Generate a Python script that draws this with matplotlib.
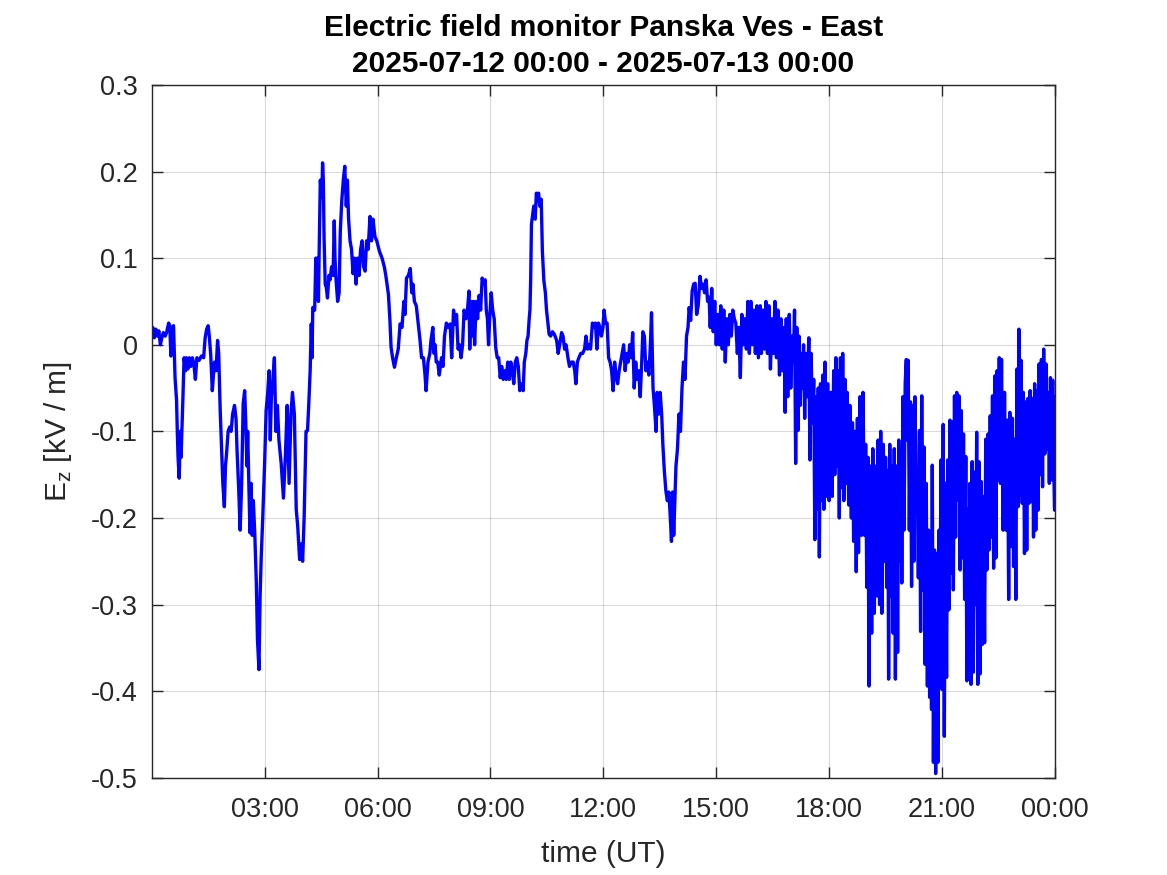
import numpy as np
import matplotlib
matplotlib.use("Agg")
import matplotlib.pyplot as plt

# E-field record, 2025-07-12 (hours UT, kV/m)
hours = [
    0.00, 0.03, 0.07, 0.11, 0.15, 0.19, 0.23, 0.27, 0.31, 0.36, 0.40, 0.45, 0.48, 0.51, 0.55, 0.58,
    0.62, 0.66, 0.68, 0.70, 0.73, 0.76, 0.78, 0.81, 0.83, 0.86, 0.90, 0.92, 0.96, 1.00, 1.04, 1.08,
    1.12, 1.16, 1.20, 1.26, 1.32, 1.38, 1.42, 1.46, 1.50, 1.53, 1.57, 1.61, 1.64, 1.67, 1.71, 1.75,
    1.78, 1.82, 1.86, 1.89, 1.93, 1.96, 1.99, 2.03, 2.07, 2.11, 2.15, 2.20, 2.24, 2.27, 2.31, 2.35,
    2.39, 2.43, 2.47, 2.50, 2.53, 2.55, 2.58, 2.61, 2.64, 2.67, 2.70, 2.74, 2.78, 2.81, 2.85, 2.88,
    2.91, 2.95, 3.00, 3.04, 3.08, 3.12, 3.15, 3.18, 3.22, 3.26, 3.30, 3.34, 3.38, 3.44, 3.50, 3.55,
    3.60, 3.65, 3.70, 3.74, 3.79, 3.84, 3.88, 3.93, 3.97,
    4.01, 4.05, 4.08, 4.10, 4.14, 4.17, 4.21, 4.24, 4.26, 4.28, 4.33, 4.36, 4.38, 4.41, 4.43, 4.45,
    4.48, 4.52, 4.54, 4.56, 4.58, 4.61, 4.64, 4.67, 4.71, 4.74, 4.78, 4.82, 4.85, 4.87, 4.90, 4.94,
    4.98, 5.01, 5.05, 5.09, 5.13, 5.17, 5.20, 5.23, 5.27, 5.31, 5.35, 5.39, 5.43, 5.47, 5.51, 5.55,
    5.59, 5.63, 5.67, 5.71, 5.75, 5.80, 5.84, 5.88, 5.93, 5.98, 6.05, 6.12, 6.18, 6.22, 6.26, 6.29,
    6.33, 6.36, 6.40, 6.45, 6.50, 6.55, 6.60, 6.65, 6.70, 6.73, 6.77, 6.82, 6.87, 6.91, 6.94, 6.98,
    7.03, 7.08, 7.13, 7.17, 7.22, 7.26, 7.29, 7.34, 7.39, 7.42, 7.47, 7.50, 7.53, 7.56, 7.60, 7.64,
    7.70, 7.74, 7.78, 7.83, 7.87,
    7.93, 7.97, 8.02, 8.06, 8.10, 8.14, 8.18, 8.22, 8.26, 8.30, 8.35, 8.39, 8.43, 8.45, 8.48, 8.51,
    8.55, 8.58, 8.62, 8.66, 8.70, 8.74, 8.78, 8.82, 8.86, 8.89, 8.92, 8.95, 8.98, 9.02, 9.06, 9.10,
    9.14, 9.18, 9.22, 9.26, 9.30, 9.34, 9.38, 9.42, 9.46, 9.50, 9.54, 9.58, 9.62, 9.66, 9.70, 9.74,
    9.78, 9.83, 9.87, 9.90, 9.94, 9.97, 10.00, 10.03, 10.05, 10.07, 10.09, 10.12, 10.15, 10.19, 10.22, 10.25,
    10.28, 10.31, 10.35, 10.38, 10.42, 10.46, 10.49, 10.52, 10.56, 10.60, 10.65, 10.70, 10.76, 10.80, 10.84, 10.89,
    10.93, 10.97, 11.01, 11.06, 11.10, 11.15, 11.20, 11.24, 11.27, 11.31, 11.35, 11.40, 11.45, 11.50, 11.54, 11.58,
    11.62, 11.66, 11.71, 11.75, 11.79, 11.83, 11.87, 11.91, 11.95, 11.99, 12.02, 12.06,
    12.10, 12.14, 12.18, 12.22, 12.26, 12.30, 12.34, 12.38, 12.42, 12.46, 12.50, 12.54, 12.58, 12.62, 12.66, 12.70,
    12.74, 12.78, 12.82, 12.86, 12.90, 12.94, 12.98, 13.02, 13.05, 13.09, 13.13, 13.17, 13.21, 13.25, 13.28, 13.32,
    13.36, 13.40, 13.43, 13.47, 13.51, 13.55, 13.58, 13.62, 13.66, 13.70, 13.74, 13.78, 13.81, 13.84, 13.87, 13.90,
    13.93, 13.97, 14.01, 14.05, 14.09, 14.13, 14.17, 14.21, 14.25, 14.28, 14.32, 14.36, 14.40, 14.44, 14.48, 14.52,
    14.57, 14.61, 14.65, 14.69, 14.73, 14.77, 14.81, 14.84, 14.88, 14.92, 14.96, 15.00, 15.04, 15.08, 15.12, 15.16,
    15.20, 15.24, 15.28, 15.32, 15.36, 15.40, 15.44, 15.48, 15.52, 15.56, 15.60, 15.64, 15.68, 15.72, 15.76, 15.80,
    15.84, 15.88, 15.92, 15.96, 16.00, 16.04, 16.08, 16.12,
    16.17, 16.20, 16.24, 16.28, 16.32, 16.36, 16.40, 16.44, 16.48, 16.52, 16.56, 16.60, 16.64, 16.68, 16.72, 16.76,
    16.80, 16.83, 16.86, 16.90, 16.94, 16.98, 17.02, 17.05, 17.08, 17.11, 17.14, 17.17, 17.20, 17.23, 17.26, 17.29,
    17.32, 17.35, 17.38, 17.42, 17.46, 17.49, 17.52, 17.56, 17.59, 17.62, 17.65, 17.68, 17.71, 17.74, 17.77, 17.80,
    17.83, 17.86, 17.89, 17.93, 17.96, 18.00, 18.04, 18.08, 18.12, 18.15, 18.18, 18.21, 18.24, 18.27, 18.30, 18.33,
    18.36, 18.39, 18.42, 18.45, 18.48, 18.52, 18.55, 18.59, 18.62, 18.65, 18.69, 18.72, 18.75, 18.78, 18.82, 18.86,
    18.90, 18.94, 18.97, 19.00, 19.03, 19.06, 19.09, 19.13, 19.16, 19.20, 19.24, 19.27, 19.30, 19.34, 19.37, 19.40,
    19.44, 19.47, 19.50, 19.53, 19.56, 19.58, 19.61, 19.64, 19.67, 19.70, 19.73, 19.76, 19.79, 19.82, 19.85, 19.88,
    19.91, 19.93, 19.96, 19.99, 20.02, 20.05, 20.07, 20.10, 20.13, 20.16, 20.19, 20.22, 20.25, 20.28, 20.31, 20.34,
    20.37, 20.40, 20.43, 20.46, 20.49, 20.52, 20.55, 20.58, 20.61, 20.64, 20.67, 20.70, 20.72, 20.74, 20.77, 20.80,
    20.83, 20.86, 20.89, 20.92, 20.95, 20.97, 21.00, 21.03, 21.06, 21.09, 21.12, 21.15, 21.18, 21.21, 21.24, 21.27,
    21.30, 21.33, 21.36, 21.39, 21.42, 21.45, 21.48, 21.51, 21.54, 21.57, 21.60, 21.63, 21.66, 21.68, 21.71, 21.74,
    21.77, 21.80, 21.83, 21.86, 21.89, 21.92, 21.95, 21.98, 22.01, 22.04, 22.07, 22.10, 22.13, 22.16, 22.19, 22.22,
    22.25, 22.28, 22.31, 22.34, 22.37, 22.40, 22.43, 22.46, 22.49, 22.52, 22.55, 22.58, 22.62, 22.66, 22.70, 22.74,
    22.77, 22.80, 22.84, 22.87, 22.90, 22.93, 22.96, 22.99, 23.02, 23.04, 23.07, 23.10, 23.13, 23.16, 23.19, 23.22,
    23.25, 23.28, 23.31, 23.34, 23.37, 23.40, 23.43, 23.46, 23.49, 23.52, 23.55, 23.58, 23.61, 23.64, 23.67, 23.70,
    23.73, 23.76, 23.79, 23.82, 23.85, 23.88, 23.91, 23.94, 23.97, 23.99, 24.00,
]

ez = [
    0.015, 0.020, 0.008, 0.018, 0.010, 0.016, 0.000, 0.008, 0.014, 0.010, 0.015, 0.025, 0.022, -0.013, 0.020, 0.022,
    -0.038, -0.064, -0.100, -0.130, -0.154, -0.100, -0.130, -0.090, -0.060, -0.015, -0.030, -0.015, -0.028, -0.015, -0.025, -0.015,
    -0.022, -0.040, -0.015, -0.018, -0.013, -0.015, 0.008, 0.018, 0.022, 0.010, -0.013, -0.053, -0.035, -0.020, -0.030, 0.005,
    -0.010, -0.076, -0.125, -0.160, -0.187, -0.140, -0.125, -0.100, -0.095, -0.100, -0.080, -0.070, -0.085, -0.125, -0.165, -0.214,
    -0.160, -0.068, -0.053, -0.090, -0.140, -0.100, -0.160, -0.217, -0.160, -0.220, -0.180, -0.220, -0.275, -0.340, -0.375, -0.290,
    -0.245, -0.200, -0.137, -0.076, -0.057, -0.030, -0.110, -0.060, -0.040, -0.015, -0.100, -0.070, -0.110, -0.137, -0.177, -0.130,
    -0.070, -0.160, -0.080, -0.055, -0.080, -0.190, -0.210, -0.248, -0.230,
    -0.250, -0.200, -0.137, -0.100, -0.099, -0.072, -0.030, 0.024, -0.015, 0.043, 0.040, 0.100, 0.058, 0.100, 0.050, 0.110,
    0.190, 0.170, 0.210, 0.190, 0.123, 0.070, 0.066, 0.054, 0.080, 0.075, 0.090, 0.080, 0.143, 0.100, 0.074, 0.050,
    0.060, 0.130, 0.166, 0.190, 0.206, 0.160, 0.190, 0.146, 0.120, 0.110, 0.082, 0.100, 0.070, 0.100, 0.080, 0.110,
    0.120, 0.090, 0.085, 0.120, 0.110, 0.148, 0.120, 0.145, 0.125, 0.120, 0.108, 0.100, 0.090, 0.080, 0.067, 0.058,
    0.028, -0.003, -0.015, -0.026, -0.015, -0.005, 0.024, 0.020, 0.050, 0.035, 0.077, 0.080, 0.088, 0.060, 0.070, 0.050,
    0.045, 0.025, 0.005, -0.015, -0.015, -0.034, -0.053, -0.020, -0.010, 0.005, 0.020, -0.010, 0.000, -0.020, -0.020, -0.035,
    -0.015, -0.025, 0.010, 0.025, 0.020,
    0.024, -0.015, 0.040, 0.024, 0.035, -0.005, 0.000, -0.015, 0.000, 0.040, 0.030, 0.040, 0.062, -0.005, 0.050, 0.010,
    0.050, 0.000, 0.050, 0.030, 0.057, 0.040, 0.077, 0.070, 0.075, 0.040, 0.030, 0.000, 0.030, 0.060, 0.040, 0.030,
    -0.003, -0.015, -0.015, -0.038, -0.025, -0.040, -0.030, -0.040, -0.020, -0.040, -0.020, -0.030, -0.045, -0.020, -0.015, -0.025,
    -0.053, -0.045, -0.053, -0.020, -0.010, 0.005, 0.010, 0.030, 0.040, 0.077, 0.139, 0.150, 0.160, 0.145, 0.175, 0.170,
    0.175, 0.160, 0.168, 0.108, 0.074, 0.060, 0.040, 0.028, 0.012, 0.010, 0.015, 0.012, 0.005, -0.010, 0.000, 0.014,
    0.010, -0.005, 0.000, -0.015, -0.025, -0.020, -0.020, -0.030, -0.045, -0.020, -0.015, -0.010, -0.010, -0.005, 0.010, -0.005,
    0.000, -0.005, 0.025, 0.020, 0.025, -0.005, 0.025, 0.020, 0.010, 0.020, 0.040, 0.025,
    0.025, -0.015, -0.020, -0.030, -0.053, -0.020, -0.035, -0.045, -0.030, -0.020, -0.010, 0.000, -0.030, -0.010, -0.020, 0.000,
    -0.015, 0.014, -0.050, -0.020, -0.040, -0.030, -0.060, -0.020, 0.015, 0.010, -0.030, -0.020, -0.035, 0.000, 0.037, -0.050,
    -0.072, -0.100, -0.055, -0.080, -0.055, -0.080, -0.114, -0.145, -0.168, -0.180, -0.170, -0.200, -0.227, -0.170, -0.220, -0.180,
    -0.140, -0.120, -0.080, -0.100, -0.050, -0.020, -0.040, 0.010, 0.020, 0.043, 0.028, 0.062, 0.070, 0.071, 0.035, 0.045,
    0.079, 0.065, 0.070, 0.060, 0.075, 0.050, 0.055, 0.020, 0.065, 0.015, 0.050, 0.000, 0.035, 0.000, 0.045, -0.005,
    0.040, -0.020, 0.030, 0.000, 0.035, 0.010, 0.040, 0.030, 0.025, -0.010, 0.020, -0.038, 0.035, 0.000, 0.030, -0.005,
    0.050, -0.010, 0.050, 0.000, 0.040, -0.010, 0.045, -0.015,
    0.045, -0.010, 0.040, -0.005, 0.050, -0.010, 0.045, -0.028, 0.030, -0.010, 0.050, -0.015, 0.040, -0.035, 0.030, -0.030,
    0.020, -0.078, 0.030, -0.060, 0.035, -0.050, 0.010, -0.020, 0.040, -0.137, 0.020, -0.099, 0.010, -0.070, -0.010, -0.050,
    0.000, -0.085, -0.010, -0.060, 0.008, -0.133, -0.010, -0.090, -0.040, -0.225, -0.060, -0.190, -0.050, -0.245, -0.045, -0.180,
    -0.035, -0.190, -0.020, -0.175, -0.045, -0.180, -0.055, -0.175, -0.030, -0.150, -0.015, -0.140, -0.030, -0.200, -0.015, -0.165,
    -0.010, -0.180, -0.040, -0.160, -0.055, -0.185, -0.070, -0.200, -0.090, -0.227, -0.100, -0.262, -0.085, -0.240, -0.060, -0.220,
    -0.055, -0.220, -0.115, -0.280, -0.130, -0.394, -0.140, -0.333, -0.120, -0.310, -0.140, -0.290, -0.110, -0.300, -0.100, -0.310,
    -0.115, -0.250, -0.130, -0.280, -0.145, -0.386, -0.115, -0.290, -0.140, -0.333, -0.120, -0.386, -0.140, -0.355, -0.110, -0.250,
    -0.118, -0.275, -0.060, -0.214, -0.045, -0.017, -0.110, -0.018, -0.214, -0.066, -0.279, -0.070, -0.250, -0.060, -0.164, -0.145,
    -0.269, -0.099, -0.331, -0.059, -0.283, -0.118, -0.369, -0.160, -0.394, -0.214, -0.407, -0.237, -0.421, -0.139, -0.482, -0.237,
    -0.495, -0.241, -0.482, -0.214, -0.302, -0.133, -0.398, -0.092, -0.452, -0.160, -0.384, -0.133, -0.306, -0.087, -0.264, -0.089,
    -0.283, -0.059, -0.222, -0.055, -0.179, -0.059, -0.260, -0.076, -0.246, -0.103, -0.294, -0.129, -0.388, -0.190, -0.350, -0.160,
    -0.392, -0.135, -0.378, -0.147, -0.300, -0.101, -0.392, -0.135, -0.380, -0.158, -0.346, -0.175, -0.344, -0.109, -0.260, -0.103,
    -0.237, -0.082, -0.222, -0.059, -0.258, -0.036, -0.246, -0.030, -0.156, -0.015, -0.160, -0.017, -0.214, -0.055, -0.214, -0.087,
    -0.294, -0.078, -0.233, -0.085, -0.256, -0.109, -0.294, -0.028, -0.187, 0.018, -0.174, -0.018, -0.183, -0.055, -0.241, -0.066,
    -0.237, -0.062, -0.183, -0.053, -0.181, -0.062, -0.222, -0.045, -0.214, -0.053, -0.191, -0.022, -0.150, -0.017, -0.164, -0.005,
    -0.126, -0.022, -0.120, -0.055, -0.160, -0.038, -0.156, -0.041, -0.149, -0.191, -0.060,
]

xtick_hours = [3, 6, 9, 12, 15, 18, 21, 24]
xtick_labels = ["03:00", "06:00", "09:00", "12:00", "15:00", "18:00", "21:00", "00:00"]
ytick_vals = [-0.5, -0.4, -0.3, -0.2, -0.1, 0, 0.1, 0.2, 0.3]
ytick_labels = ["-0.5", "-0.4", "-0.3", "-0.2", "-0.1", "0", "0.1", "0.2", "0.3"]

plt.rcParams["font.family"] = ["Liberation Sans", "DejaVu Sans"]
axcol = (0.15, 0.15, 0.15)

fig = plt.figure(figsize=(11.67, 8.75), dpi=100)
ax = fig.add_axes([0.13, 0.111, 0.774, 0.792])

ax.plot(hours, ez, color=(0, 0, 1), linewidth=2.4)

ax.set_xlim(0, 24)
ax.set_ylim(-0.5, 0.3)
ax.set_xticks(xtick_hours)
ax.set_xticklabels(xtick_labels)
ax.set_yticks(ytick_vals)
ax.set_yticklabels(ytick_labels)

ax.grid(True, color="black", alpha=0.15, linewidth=0.8)
ax.set_axisbelow(True)
ax.tick_params(direction="in", length=8, width=1, colors=axcol, labelsize=19.5,
               top=True, right=True, pad=10)
ax.tick_params(axis="x", pad=14)
for s in ax.spines.values():
    s.set_color(axcol)
    s.set_linewidth(1.0)

ax.set_xlabel("time (UT)", fontsize=21.5, color=axcol, labelpad=12)
ax.set_ylabel(r"E$_\mathregular{z}$ [kV / m]", fontsize=21.5, color=axcol, labelpad=12)
ax.set_title("Electric field monitor Panska Ves - East\n2025-07-12 00:00 - 2025-07-13 00:00",
             fontsize=21.5, fontweight="bold", pad=9, linespacing=1.38)

fig.savefig("out.png", dpi=100)
